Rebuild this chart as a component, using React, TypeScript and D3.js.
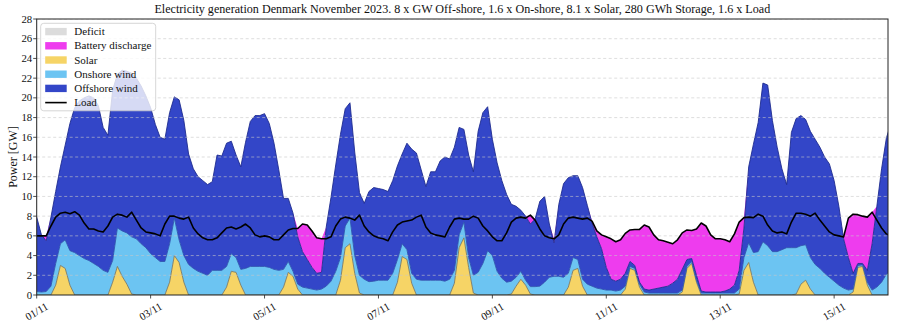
import React from 'react';
import * as d3 from 'd3';

// ---- Data (2-hour steps from 01/11 00:00, values in GW) ----
const STEP_HOURS = 2;

const solar = [
  0, 0, 0, 0, 1.0, 3.0, 2.7, 1.0, 0, 0, 0, 0,
  0, 0, 0, 0, 1.3, 2.9, 1.9, 1.1, 0.1, 0, 0, 0,
  0, 0, 0, 0, 1.3, 4.0, 3.3, 1.3, 0, 0, 0, 0,
  0, 0, 0, 0, 0.8, 2.4, 2.3, 1.0, 0, 0, 0, 0,
  0, 0, 0, 0, 0.8, 2.3, 1.9, 0.6, 0, 0, 0, 0,
  0, 0, 0, 0, 1.5, 4.8, 5.2, 2.2, 0.2, 0, 0, 0,
  0, 0, 0, 0, 1.3, 3.9, 3.6, 1.2, 0, 0, 0, 0,
  0, 0, 0, 0, 1.2, 4.8, 5.8, 2.8, 0.2, 0, 0, 0,
  0, 0, 0, 0, 0.1, 0.9, 1.6, 1.0, 0.1, 0, 0, 0,
  0, 0, 0, 0, 0.8, 2.5, 2.7, 0.9, 0, 0, 0, 0,
  0, 0, 0, 0, 0.6, 2.7, 2.5, 0.8, 0, 0, 0, 0,
  0, 0, 0, 0, 0.3, 2.7, 3.2, 1.3, 0, 0, 0, 0,
  0, 0, 0, 0, 0.1, 2.5, 3.3, 1.3, 0, 0, 0, 0,
  0, 0, 0, 0, 0.1, 1.1, 1.5, 0.6, 0, 0, 0, 0,
  0, 0, 0, 0, 0.3, 2.8, 2.9, 1.0, 0, 0, 0, 0,
  0,
];

const onshore = [
  0.35, 0.3, 0.35, 0.9, 2.2, 2.2, 2.9, 3.5, 4.3, 4.0, 3.7, 3.5,
  3.2, 2.9, 2.5, 2.3, 2.2, 3.9, 4.6, 5.2, 5.8, 5.7, 5.2, 4.8,
  4.2, 3.8, 3.4, 3.4, 3.9, 3.8, 2.3, 2.7, 3.1, 2.7, 2.4, 2.2,
  2.0, 2.5, 2.5, 2.5, 2.1, 1.8, 1.5, 1.6, 2.7, 2.9, 2.9, 2.9,
  2.9, 2.8, 2.6, 2.5, 1.8, 1.1, 0.5, 0.5, 0.8, 0.7, 0.6, 0.5,
  0.6, 0.9, 1.4, 2.4, 2.3, 2.2, 2.6, 1.8, 1.8, 1.6, 1.35, 1.4,
  1.5, 1.5, 1.5, 2.2, 2.3, 1.3, 1.0, 1.0, 1.6, 1.5, 1.5, 1.5,
  1.5, 1.5, 1.4, 1.6, 1.3, 1.3, 1.6, 1.0, 1.8, 2.3, 3.2, 4.5,
  4.0, 2.4, 1.7, 1.3, 1.3, 0.9, 0.8, 0.5, 0.75, 0.85, 0.9, 1.3,
  1.8, 1.9, 1.9, 1.8, 1.4, 1.3, 0.9, 0.7, 1.1, 0.9, 0.7, 0.6,
  0.5, 0.5, 0.4, 0.5, 0.3, 0.2, 0.2, 0.3, 0.3, 0.2, 0.2, 0.2,
  0.2, 0.2, 0.2, 0.2, 0.2, 0.2, 0.2, 0.2, 0.2, 0.2, 0.2, 0.2,
  0.2, 0.2, 0.2, 0.2, 0.5, 1.3, 2.0, 3.0, 4.4, 5.4, 5.0, 4.4,
  4.4, 4.6, 4.8, 4.8, 4.7, 3.9, 3.6, 3.2, 3.1, 2.7, 2.2, 1.8,
  1.4, 1.0, 0.7, 0.5, 0.3, 0.2, 0.15, 0.3, 0.5, 0.8, 1.3, 2.1,
  2.5,
];

const offshore = [
  7.55, 5.8, 5.15, 7.0, 7.3, 7.8, 9.6, 12.9, 14.7, 15.7, 16.3, 16.7,
  16.8, 16.3, 14.5, 13.9, 17.3, 15.6, 16.3, 16.4, 16.6, 16.3, 16.0, 15.4,
  14.8, 13.5, 12.6, 12.4, 13.3, 12.3, 14.2, 13.7, 11.2, 10.1, 9.6, 9.4,
  9.2, 9.0, 11.7, 11.6, 12.5, 11.4, 10.4, 10.4, 12.8, 14.7, 15.3, 15.3,
  15.5, 14.6, 12.8, 10.2, 7.2, 6.4, 5.9, 4.8, 3.6, 2.9, 2.2, 1.7,
  1.7, 6.0, 8.5, 10.8, 12.5, 11.9, 11.7, 10.5, 8.4, 7.7, 9.15, 9.5,
  9.3, 9.2, 9.0, 9.4, 9.5, 9.1, 10.8, 12.6, 12.8, 11.2, 9.5, 11.0,
  11.0, 12.1, 12.6, 12.2, 12.5, 10.9, 9.4, 10.4, 10.5, 14.3, 15.3, 14.6,
  11.8, 11.0, 9.9, 8.9, 7.8, 7.2, 6.2, 6.5, 6.35, 6.85, 8.6, 8.7,
  5.4, 3.4, 7.3, 9.5, 9.7, 8.3, 8.5, 9.3, 8.0, 6.4, 5.2, 4.1,
  2.3, 1.1, 1.0, 1.1, 1.3, 0.5, 0.3, 0.2, 0.3, 0.3, 0.4, 0.5,
  0.6, 0.7, 1.0, 1.4, 2.1, 0.7, 0.3, 0.5, 0.2, 0.1, 0.1, 0.1,
  0.1, 0.2, 0.4, 0.8, 1.9, 3.0, 7.7, 11.0, 13.1, 16.1, 16.3, 13.3,
  10.6, 8.2, 6.4, 11.7, 13.1, 13.2, 12.7, 12.8, 12.7, 12.3, 11.8, 11.5,
  10.2, 8.0, 5.0, 3.3, 1.6, 0.2, 0.15, 1.2, 4.7, 8.2, 11.5, 13.8,
  15.0,
];

const load = [
  6.0, 6.0, 6.0, 7.0, 7.9, 8.3, 8.4, 8.25, 8.45, 8.1, 7.3, 6.7,
  6.7, 6.5, 6.4, 7.0, 7.9, 8.2, 8.1, 7.9, 8.4, 7.6, 6.8, 6.4,
  6.3, 6.2, 6.0, 7.2, 8.0, 8.0, 7.8, 7.7, 7.9, 6.8, 6.2, 5.8,
  5.6, 5.6, 5.8, 6.3, 6.8, 6.9, 6.7, 6.9, 7.2, 6.8, 6.1, 5.9,
  6.0, 5.9, 5.6, 5.6, 6.1, 6.6, 6.75, 6.75, 7.2, 7.1, 6.5, 5.8,
  5.7, 5.7, 5.9, 7.0, 7.7, 7.9, 7.8, 7.6, 8.1, 7.0, 6.4, 6.0,
  5.8, 5.7, 5.5, 6.4, 7.1, 7.4, 7.5, 7.6, 7.9, 8.1, 6.9, 6.3,
  6.1, 6.0, 5.9, 6.9, 7.7, 7.8, 7.7, 7.7, 8.0, 7.8, 7.0, 6.5,
  5.9, 5.5, 5.5, 6.3, 7.4, 7.8, 7.9, 7.8, 8.1, 7.6, 6.7, 6.0,
  5.8, 5.7, 6.1, 7.2, 7.8, 7.9, 7.8, 7.7, 7.8, 7.5, 6.5, 6.1,
  5.9, 5.7, 5.4, 5.6, 6.25, 6.6, 6.65, 6.65, 7.1, 6.9, 6.1, 5.6,
  5.5, 5.35, 5.2, 5.6, 6.3, 6.6, 6.55, 6.7, 7.3, 7.0, 6.1, 5.7,
  5.7, 5.6, 5.4, 6.2, 7.4, 7.85, 7.9, 7.85, 8.2, 8.0, 7.1, 6.5,
  6.3, 6.4, 6.2, 7.4, 8.3, 8.3, 8.2, 8.0, 8.3, 7.6, 7.0, 6.4,
  6.1, 6.0, 5.9, 7.8, 8.2, 8.15, 8.0, 7.9, 8.4, 7.6, 6.8, 6.2,
  6.0,
];

const xTickHours = [0, 48, 96, 144, 192, 240, 288, 336];
const xTickLabels = ['01/11', '03/11', '05/11', '07/11', '09/11', '11/11', '13/11', '15/11'];
const yTicks = [0, 2, 4, 6, 8, 10, 12, 14, 16, 18, 20, 22, 24, 26, 28];

const legendItems = [
  { label: 'Deficit', kind: 'patch', color: '#dcdcdc' },
  { label: 'Battery discharge', kind: 'patch', color: '#ee3cee' },
  { label: 'Solar', kind: 'patch', color: '#f6d466' },
  { label: 'Onshore wind', kind: 'patch', color: '#6cc4f2' },
  { label: 'Offshore wind', kind: 'patch', color: '#3346c8' },
  { label: 'Load', kind: 'line', color: '#000000' },
];

const TITLE =
  'Electricity generation Denmark November 2023. 8 x GW Off-shore, 1.6 x On-shore, 8.1 x Solar, 280 GWh Storage, 1.6 x Load';

const FONT = "'Liberation Serif', 'DejaVu Serif', serif";

export default function App() {
  const W = 900;
  const H = 330;
  const left = 36.7;
  const right = 888;
  const top = 19;
  const bottom = 295;

  const x = d3.scaleLinear().domain([0, 358.7]).range([left, right]);
  const y = d3.scaleLinear().domain([0, 28]).range([bottom, top]);

  const rows = solar.map((s, i) => {
    const t = i * STEP_HOURS;
    const so = s + onshore[i];
    const gen = so + offshore[i];
    const bat = Math.max(0, load[i] - gen);
    return { t, s, so, gen, batTop: gen + bat, load: load[i] };
  });

  type R = (typeof rows)[number];
  const area = (f0: (r: R) => number, f1: (r: R) => number) =>
    d3
      .area<R>()
      .x((r) => x(r.t))
      .y0((r) => y(f0(r)))
      .y1((r) => y(f1(r)))(rows) || '';
  const line = (f: (r: R) => number) =>
    d3
      .line<R>()
      .x((r) => x(r.t))
      .y((r) => y(f(r)))(rows) || '';

  const solarPath = area(() => 0, (r) => r.s);
  const onPath = area((r) => r.s, (r) => r.so);
  const offPath = area((r) => r.so, (r) => r.gen);
  const batPath = area((r) => r.gen, (r) => r.batTop);

  const legendX = 40.7;
  const legendY = 23.3;
  const rowH = 14.2;

  return (
    <svg
      width={W}
      height={H}
      style={{ position: 'absolute', left: 0, top: 0, background: '#fff' }}
      fontFamily={FONT}
    >
      <defs>
        <clipPath id="plotClip">
          <rect x={left} y={top} width={right - left} height={bottom - top} />
        </clipPath>
      </defs>
      <rect x={0} y={0} width={W} height={H} fill="#fff" />
      <text x={(left + right) / 2} y={13} textAnchor="middle" fontSize={12.1} fill="#111">
        {TITLE}
      </text>

      <g clipPath="url(#plotClip)">
        <path d={solarPath} fill="#f6d466" />
        <path d={onPath} fill="#6cc4f2" />
        <path d={offPath} fill="#3346c8" />
        <path d={batPath} fill="#ee3cee" />
        <path d={line((r) => r.s)} fill="none" stroke="#7d7a62" strokeWidth={0.9} />
        <path d={line((r) => r.so)} fill="none" stroke="#2c55b0" strokeWidth={0.9} />
        <path d={line((r) => r.gen)} fill="none" stroke="#1e2b8e" strokeWidth={0.9} />
        {yTicks.slice(1).map((v) => (
          <line
            key={v}
            x1={left}
            x2={right}
            y1={y(v)}
            y2={y(v)}
            stroke="#c8c8c8"
            strokeOpacity={0.75}
            strokeWidth={0.8}
            strokeDasharray="3,2.5"
          />
        ))}
        <path d={line((r) => r.load)} fill="none" stroke="#000" strokeWidth={1.6} strokeLinejoin="round" />
      </g>

      <rect x={left} y={top} width={right - left} height={bottom - top} fill="none" stroke="#222" strokeWidth={1} />

      {yTicks.map((v) => (
        <g key={v}>
          <line x1={left - 3.5} x2={left} y1={y(v)} y2={y(v)} stroke="#222" strokeWidth={0.8} />
          <text x={left - 4.5} y={y(v)} dy="0.33em" textAnchor="end" fontSize={10.8} fill="#111">
            {v}
          </text>
        </g>
      ))}

      {xTickHours.map((h, i) => (
        <g key={h}>
          <line x1={x(h)} x2={x(h)} y1={bottom} y2={bottom + 3.5} stroke="#222" strokeWidth={0.8} />
          <text
            transform={`translate(${x(h)},${311.5}) rotate(-30)`}
            textAnchor="middle"
            dy="0.33em"
            fontSize={10.8}
            fill="#111"
          >
            {xTickLabels[i]}
          </text>
        </g>
      ))}

      <text
        transform={`translate(13.5,${(top + bottom) / 2}) rotate(-90)`}
        textAnchor="middle"
        dy="0.33em"
        fontSize={12}
        fill="#111"
      >
        Power [GW]
      </text>

      <g>
        <rect
          x={legendX}
          y={legendY}
          width={115}
          height={87.5}
          rx={3}
          fill="#fff"
          fillOpacity={0.8}
          stroke="#cccccc"
          strokeWidth={0.8}
        />
        {legendItems.map((it, i) => {
          const cy = legendY + 8.3 + i * rowH;
          return (
            <g key={it.label}>
              {it.kind === 'patch' ? (
                <rect x={legendX + 4.5} y={cy - 3.7} width={21.5} height={7.4} fill={it.color} />
              ) : (
                <line x1={legendX + 4.5} x2={legendX + 26} y1={cy} y2={cy} stroke={it.color} strokeWidth={1.6} />
              )}
              <text x={legendX + 33.5} y={cy} dy="0.33em" fontSize={11} fill="#111">
                {it.label}
              </text>
            </g>
          );
        })}
      </g>
    </svg>
  );
}
